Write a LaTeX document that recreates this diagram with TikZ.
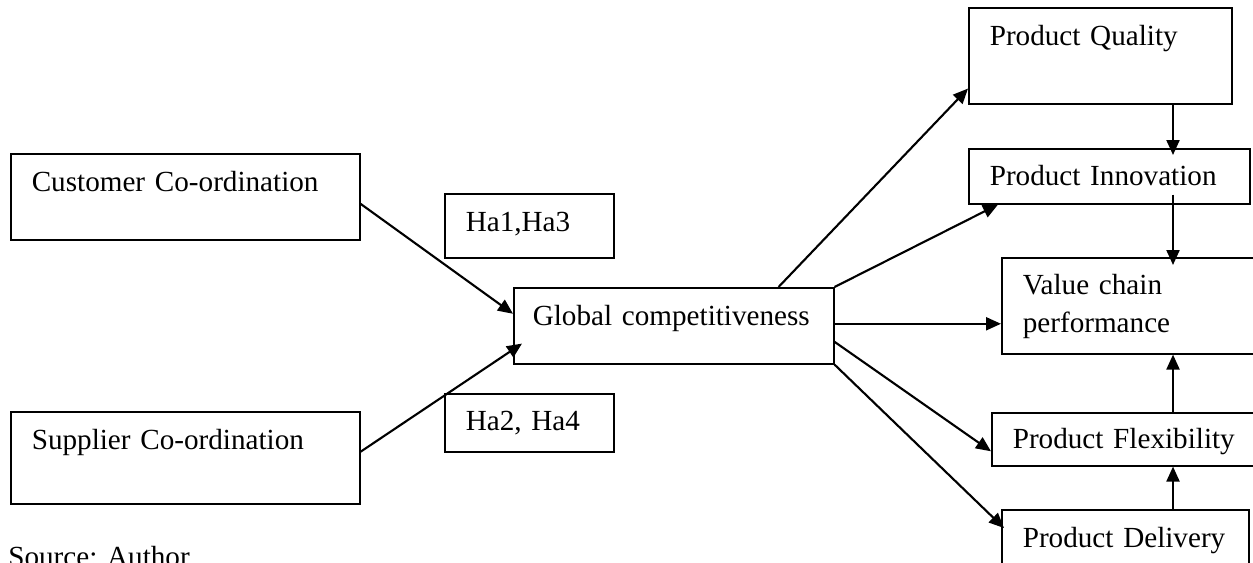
\documentclass[tikz,border=0pt]{standalone}
\usepackage{fontspec}
\setmainfont{Liberation Serif}
\usepackage{tikz}
\usetikzlibrary{arrows.meta,positioning,calc}
\tikzset{
  box/.style={draw, line width=0.9pt, anchor=north west, align=left,
    inner xsep=0.42cm, inner ysep=0pt, font=\fontsize{16.6pt}{21.6pt}\selectfont},
  arrow/.style={-{Triangle[length=0.3cm,width=0.26cm]}, line width=1.2pt},
}
\begin{document}
\begin{tikzpicture}[x=0.02cm,y=-0.02cm]
  \useasboundingbox (0,0) rectangle (1253,562);
  \node[box, text width=6.14cm, text height=0.76cm, text depth=0.96cm] (cust) at (10,153) {Customer Co-ordination};
  \node[box, text width=6.14cm, text height=0.76cm, text depth=1.08cm] (supp) at (10,411) {Supplier Co-ordination};
  \node[box, text width=2.54cm, text height=0.76cm, text depth=0.52cm] (ha13) at (444,193) {Ha1,Ha3};
  \node[box, text width=2.54cm, text height=0.74cm, text depth=0.42cm] (ha24) at (444,393) {Ha2, Ha4};
  \node[box, inner xsep=0.38cm, text width=5.64cm, text height=0.76cm, text depth=0.76cm] (glob) at (513,287) {Global competitiveness};
  \node[box, text width=4.42cm, text height=0.76cm, text depth=1.16cm] (qual) at (968,7) {Product Quality};
  \node[box, text width=4.78cm, text height=0.74cm, text depth=0.36cm] (innov) at (968,148) {Product Innovation};
  \node[box, text width=4.44cm, text height=0.74cm, text depth=1.18cm] (value) at (1001,257) {Value chain\\performance};
  \node[box, text width=4.64cm, text height=0.72cm, text depth=0.34cm] (flex) at (991,412) {Product Flexibility};
  \node[box, text width=4.10cm, text height=0.76cm, text depth=0.56cm] (deliv) at (1001,509) {Product Delivery};
  \node[anchor=base west, inner sep=0pt, font=\fontsize{16.6pt}{21.6pt}\selectfont] (src) at (8,566) {Source: Author};
  \coordinate (mid) at (1173,0);

  \draw[arrow] ([yshift=-0.14cm]cust.east) -- ([yshift=0.24cm]glob.west);
  \draw[arrow] ([yshift=0.12cm]supp.east) -- ([shift={(0.18cm,0.42cm)}]glob.south west);
  \draw[arrow] ([xshift=-1.12cm]glob.north east) -- ([yshift=0.32cm]qual.south west);
  \draw[arrow] (glob.north east) -- ([xshift=0.6cm]innov.south west);
  \draw[arrow] ([yshift=0.04cm]glob.east) -- ([yshift=0.04cm]glob.east -| value.west);
  \draw[arrow] ([yshift=-0.32cm]glob.east) -- ([yshift=-0.24cm]flex.west);
  \draw[arrow] (glob.south east) -- ([shift={(0.06cm,-0.38cm)}]deliv.north west);
  \draw[arrow, shorten >=-0.14cm] (mid |- qual.south) -- (mid |- innov.north);
  \draw[arrow, shorten >=-0.16cm] ([yshift=0.2cm]mid |- innov.south) -- (mid |- value.north);
  \draw[arrow] (mid |- flex.north) -- (mid |- value.south);
  \draw[arrow] (mid |- deliv.north) -- (mid |- flex.south);
\end{tikzpicture}
\end{document}
